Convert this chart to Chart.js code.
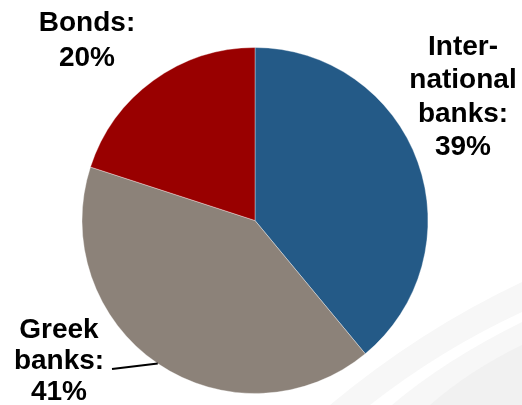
<!DOCTYPE html>
<html>
<head>
<meta charset="utf-8">
<script src="https://cdn.jsdelivr.net/npm/chart.js@4.4.1/dist/chart.umd.min.js"></script>
<style>
  html, body { margin: 0; padding: 0; background: #fff; }
  #wrap { width: 522px; height: 405px; position: relative; }
</style>
</head>
<body>
<div id="wrap"><canvas id="funding"></canvas></div>
<script>
// funding split, clockwise from 12 o'clock
const categories = ['International banks', 'Greek banks', 'Bonds'];
const labelLines = [['Inter-', 'national', 'banks:'], ['Greek', 'banks:'], ['Bonds:']];
const shares = [39, 41, 20];
const colors = ['#245a87', '#8c8279', '#990000'];

// where each label block sits (centre x, first baseline y, line pitch)
const labelSpots = [
  { x: 463, y: 55, pitch: 33.3 },
  { x: 59, y: 338, pitch: 31 },
  { x: 87, y: 31, pitch: 35 }
];

// faint grey swooshes behind the pie
const backdrop = {
  id: 'backdrop',
  beforeDraw(chart) {
    const ctx = chart.ctx;
    ctx.save();
    ctx.fillStyle = '#f7f7f7';
    ctx.beginPath();
    ctx.moveTo(330, 405);
    ctx.quadraticCurveTo(420, 330, 522, 282);
    ctx.lineTo(522, 405); ctx.closePath();
    ctx.fill();
    ctx.fillStyle = '#ffffff';
    ctx.beginPath();
    ctx.moveTo(370, 405);
    ctx.quadraticCurveTo(440, 350, 522, 312);
    ctx.lineTo(522, 322);
    ctx.quadraticCurveTo(445, 360, 392, 405);
    ctx.closePath();
    ctx.fill();
    ctx.fillStyle = '#f1f1f1';
    ctx.beginPath();
    ctx.moveTo(430, 405);
    ctx.quadraticCurveTo(470, 370, 522, 345);
    ctx.lineTo(522, 405); ctx.closePath();
    ctx.fill();
    ctx.restore();
  }
};

// bold labels with the share, plus the leader for Greek banks
const sliceLabels = {
  id: 'sliceLabels',
  afterDraw(chart) {
    const ctx = chart.ctx;
    const arcs = chart.getDatasetMeta(0).data;
    ctx.save();
    ctx.fillStyle = '#000';
    ctx.font = 'bold 28px "Liberation Sans", Arial, sans-serif';
    ctx.textAlign = 'center';
    ctx.textBaseline = 'alphabetic';
    shares.forEach((v, i) => {
      const spot = labelSpots[i];
      const lines = labelLines[i].concat([v + '%']);
      lines.forEach((t, k) => ctx.fillText(t, spot.x, spot.y + k * spot.pitch));
    });
    // leader from "banks:" to the grey slice edge
    const a = arcs[1];
    const ang = a.startAngle + (a.endAngle - a.startAngle) * 0.5;
    const ex = a.x + Math.cos(ang) * a.outerRadius;
    const ey = a.y + Math.sin(ang) * a.outerRadius;
    ctx.strokeStyle = '#000';
    ctx.lineWidth = 2;
    ctx.beginPath();
    ctx.moveTo(112, 369);
    ctx.lineTo(ex, ey);
    ctx.stroke();
    ctx.restore();
  }
};

new Chart(document.getElementById('funding').getContext('2d'), {
  type: 'pie',
  data: {
    labels: categories,
    datasets: [{
      data: shares,
      backgroundColor: colors,
      borderColor: 'rgba(255,255,255,0.35)',
      borderWidth: 1,
      hoverOffset: 0
    }]
  },
  options: {
    responsive: true,
    maintainAspectRatio: false,
    animation: false,
    layout: { padding: { left: 81, right: 93, top: 47, bottom: 11 } },
    plugins: {
      legend: { display: false },
      tooltip: { enabled: false }
    }
  },
  plugins: [backdrop, sliceLabels]
});
</script>
</body>
</html>
